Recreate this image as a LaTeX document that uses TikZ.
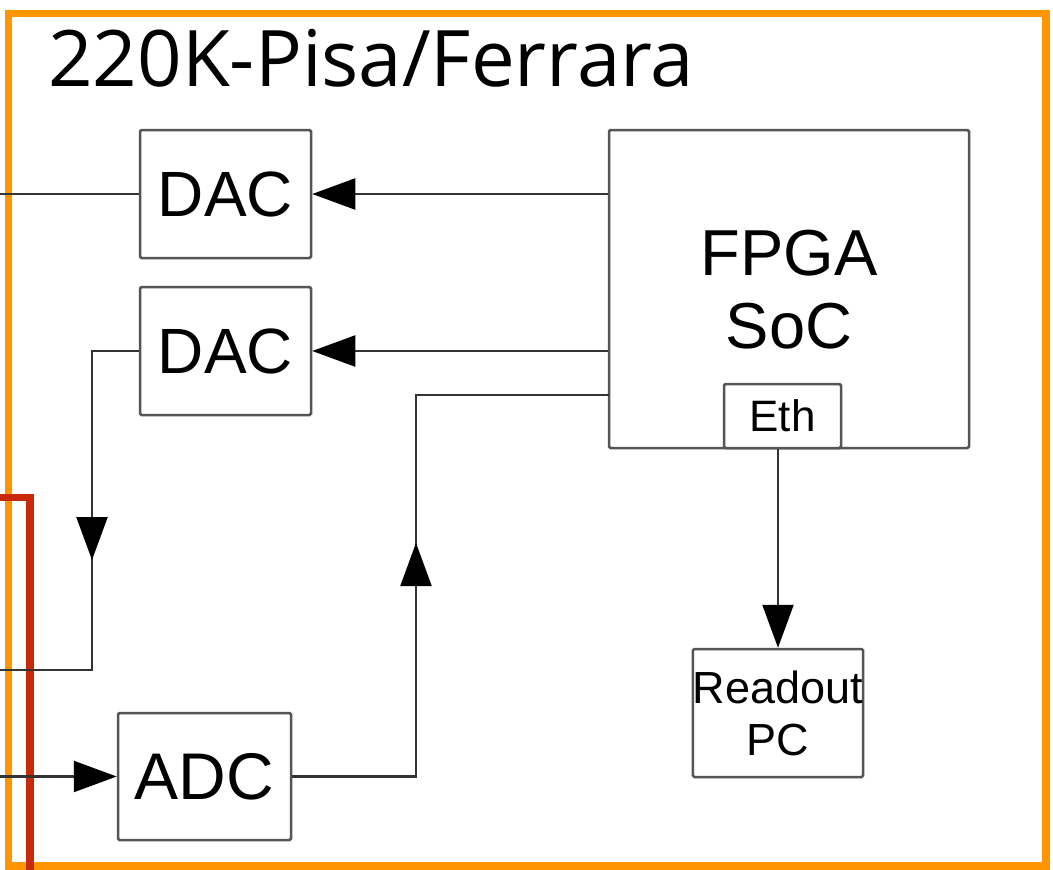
\documentclass[tikz,border=0pt]{standalone}
\usepackage{fontspec}
\setmainfont{Liberation Sans}
\newfontfamily\titlefont{Open Sans}
\usetikzlibrary{arrows.meta}
\definecolor{orangeB}{HTML}{FF9500}
\definecolor{redB}{HTML}{C82A08}
\definecolor{boxgray}{HTML}{555555}
\definecolor{wire}{HTML}{333333}
\tikzset{
  blk/.style={draw=boxgray, line width=2.5pt, rounded corners=1.5pt, fill=white, inner sep=0pt, text=black},
  wirel/.style={draw=wire, line width=2.2pt},
  arr/.style={wirel, -{Triangle[length=43pt, width=31pt, fill=black, color=black]}},
}
\begin{document}
\begin{tikzpicture}[x=1pt, y=-1pt]
\useasboundingbox (0,0) rectangle (1053,870);
\fill[white] (0,0) rectangle (1053,870);
% frames
\draw[orangeB, line width=7.5pt] (8.5,13.5) rectangle (1046,866);
\coordinate (r0) at (0,497.5);
\coordinate (r1) at (30,497.5);
\coordinate (r2) at (30,875);
\draw[redB, line width=7.5pt] (r0) -- (r1) -- (r2);
% title
\node[anchor=base west, inner sep=0pt, font=\titlefont\fontsize{78}{86}\selectfont] (title) at (48,86) {220K-Pisa/Ferrara};
% blocks
\node[blk, minimum width=171pt, minimum height=128pt, font=\fontsize{64}{70}\selectfont] (dac1) at (225.5,194) {DAC};
\node[blk, minimum width=171pt, minimum height=128pt, font=\fontsize{64}{70}\selectfont] (dac2) at (225.5,351) {DAC};
\node[blk, minimum width=360pt, minimum height=318pt] (fpga) at (789,289) {};
\node[anchor=base, inner sep=0pt, font=\fontsize{65}{73}\selectfont, align=center] (fpgat) at (789,348) {FPGA\\SoC};
\node[blk, minimum width=117pt, minimum height=64pt, font=\fontsize{44}{50}\selectfont] (eth) at (782.5,416) {Eth};
\node[blk, minimum width=170pt, minimum height=128pt, font=\fontsize{45}{52}\selectfont, align=center] (pc) at (778,713) {Readout\\PC};
\node[blk, minimum width=173pt, minimum height=127pt, font=\fontsize{66}{72}\selectfont] (adc) at (204.5,776.5) {ADC};
% connectors
\coordinate (in1) at (0,194);
\draw[wirel] (in1) -- (dac1.west);
\draw[arr] (fpga.west |- dac1.east) -- (dac1.east);
\draw[arr] (fpga.west |- dac2.east) -- (dac2.east);
\coordinate (k1) at (92,351);
\coordinate (km) at (92,560);
\coordinate (k2) at (92,670);
\coordinate (kout) at (0,670);
\draw[wirel] (dac2.west) -- (k1) -- (k2) -- (kout);
\draw[arr] (k1) -- (km);
\coordinate (ain) at (0,776.5);
\draw[arr] (ain) -- (adc.west);
\coordinate (a1) at (416,776.5);
\coordinate (am) at (416,543);
\coordinate (a2) at (416,395);
\coordinate (a3) at (609,395);
\draw[wirel] (adc.east) -- (a1) -- (a2) -- (a3);
\draw[arr] (a1) -- (am);
\draw[arr] (eth.south -| pc.north) -- (pc.north);
\end{tikzpicture}
\end{document}
